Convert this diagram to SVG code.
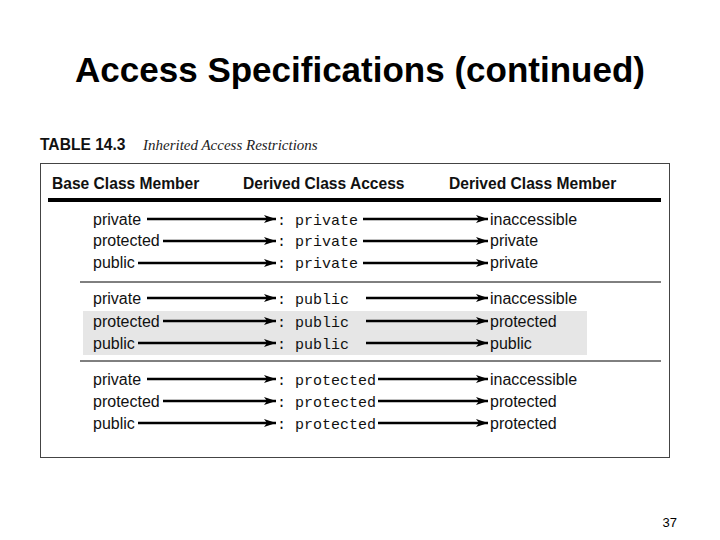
<svg xmlns="http://www.w3.org/2000/svg" width="720" height="540" viewBox="0 0 720 540">
<style>
.s{font-family:"Liberation Sans",Arial,sans-serif;font-size:16px;fill:#111}
.h{font-family:"Liberation Sans",Arial,sans-serif;font-size:15.6px;fill:#111;font-weight:bold}
.m{font-family:"Liberation Mono","Courier New",monospace;font-size:15px;fill:#111}
.a{stroke:#000;stroke-width:2.5;fill:none;marker-end:url(#ar)}
</style>
<defs><marker id="ar" markerWidth="12" markerHeight="8" refX="12" refY="4" orient="auto" markerUnits="userSpaceOnUse"><path d="M0,0 L12,4 L0,8 L3,4 Z" fill="#000"/></marker></defs>
<rect width="720" height="540" fill="#fff"/>
<text x="360" y="82" text-anchor="middle" font-family="Liberation Sans,Arial,sans-serif" font-size="35" font-weight="bold" fill="#000">Access Specifications (continued)</text>
<text x="40" y="150" class="h">TABLE 14.3</text>
<text x="143" y="150" font-family="Liberation Serif,serif" font-style="italic" font-size="15" fill="#222">Inherited Access Restrictions</text>
<rect x="40.5" y="163.5" width="629" height="294" fill="none" stroke="#444" stroke-width="1"/>
<text x="52" y="189" class="h">Base Class Member</text>
<text x="243" y="189" class="h">Derived Class Access</text>
<text x="449" y="189" class="h">Derived Class Member</text>
<line x1="48" y1="200" x2="661" y2="200" stroke="#000" stroke-width="4"/>
<line x1="80" y1="282" x2="661" y2="282" stroke="#000" stroke-width="1"/>
<line x1="80" y1="361" x2="661" y2="361" stroke="#000" stroke-width="1"/>
<rect x="83" y="311" width="504" height="44" fill="#e6e6e6"/>
<g id="rows">
<g id="r1"><text x="93" y="225" class="s">private</text><text x="277" y="225" class="m">: private</text><text x="490" y="225" class="s">inaccessible</text></g>
<g id="r2"><text x="93" y="246" class="s">protected</text><text x="277" y="246" class="m">: private</text><text x="490" y="246" class="s">private</text></g>
<g id="r3"><text x="93" y="268" class="s">public</text><text x="277" y="268" class="m">: private</text><text x="490" y="268" class="s">private</text></g>
<g id="r4"><text x="93" y="304" class="s">private</text><text x="277" y="304" class="m">: public</text><text x="490" y="304" class="s">inaccessible</text></g>
<g id="r5"><text x="93" y="327" class="s">protected</text><text x="277" y="327" class="m">: public</text><text x="490" y="327" class="s">protected</text></g>
<g id="r6"><text x="93" y="349" class="s">public</text><text x="277" y="349" class="m">: public</text><text x="490" y="349" class="s">public</text></g>
<g id="r7"><text x="93" y="385" class="s">private</text><text x="277" y="385" class="m">: protected</text><text x="490" y="385" class="s">inaccessible</text></g>
<g id="r8"><text x="93" y="407" class="s">protected</text><text x="277" y="407" class="m">: protected</text><text x="490" y="407" class="s">protected</text></g>
<g id="r9"><text x="93" y="429" class="s">public</text><text x="277" y="429" class="m">: protected</text><text x="490" y="429" class="s">protected</text></g>
</g>
<g id="connectors">
<path class="a" d="M147,219H276"/><path class="a" d="M363,219H488"/>
<path class="a" d="M163,241H276"/><path class="a" d="M363,241H488"/>
<path class="a" d="M138,263H276"/><path class="a" d="M363,263H488"/>
<path class="a" d="M147,298H276"/><path class="a" d="M366,298H488"/>
<path class="a" d="M163,321H276"/><path class="a" d="M366,321H488"/>
<path class="a" d="M138,343H276"/><path class="a" d="M366,343H488"/>
<path class="a" d="M147,379H276"/><path class="a" d="M378,379H488"/>
<path class="a" d="M163,401H276"/><path class="a" d="M378,401H488"/>
<path class="a" d="M138,423H276"/><path class="a" d="M378,423H488"/>
</g>
<text x="677" y="527" text-anchor="end" font-family="Liberation Sans,Arial,sans-serif" font-size="13" fill="#000">37</text>
</svg>
